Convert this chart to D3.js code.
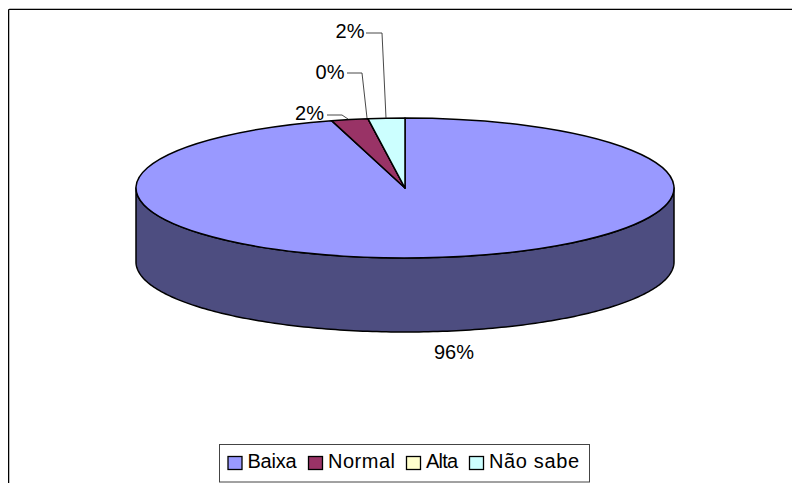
<!DOCTYPE html>
<html>
<head>
<meta charset="utf-8">
<script src="https://cdn.jsdelivr.net/npm/d3@7"></script>
<style>
body { margin: 0; background: #fff; }
text { font-family: "Liberation Sans", Arial, sans-serif; fill: #000; }
</style>
</head>
<body>
<script>
var categories = ["Baixa", "Normal", "Alta", "Não sabe"];
var values = [95.6, 2.2, 0.0, 2.2];
var labels = ["96%", "2%", "0%", "2%"];
var colors = ["#9999ff", "#993366", "#ffffcc", "#ccffff"];
var sideColor = "#4d4d80";

var w = 792;
var h = 483;

var cx = 405, cy = 188, rx = 269, ry = 70, depth = 74;

var svg = d3.select("body").append("svg")
    .attr("width", w)
    .attr("height", h)
    .style("display", "block");

//Chart frame, open at right and bottom like the picture
svg.append("path")
    .attr("d", "M9.5,483V8.5H792")
    .attr("fill", "none")
    .attr("stroke", "#bbb");
svg.append("path")
    .attr("d", "M8.5,483V9.5H792")
    .attr("fill", "none")
    .attr("stroke", "#000");

//Pie goes clockwise from 12 o'clock, Baixa first
var pie = d3.pie().sort(null).value(function(d) { return d; });
var arcs = pie(values);

var arc = d3.arc().innerRadius(0).outerRadius(rx);

function px(a) { return cx + rx * Math.sin(a); }
function py(a) { return cy - ry * Math.cos(a); }

//Side wall is the front half of the ellipse pushed down
var front = d3.range(90, 270.5, 1).map(function(d) { return d * Math.PI / 180; });
var upperEdge = d3.line().x(px).y(py)(front);
var lowerEdge = d3.line().x(px).y(function(a) { return py(a) + depth; })(front.slice().reverse());

svg.append("path")
    .attr("d", upperEdge + "L" + lowerEdge.slice(1) + "Z")
    .attr("fill", sideColor)
    .attr("stroke", "#000")
    .attr("stroke-width", 1.5)
    .attr("stroke-linejoin", "round");

var slices = svg.append("g")
    .attr("transform", "translate(" + cx + "," + cy + ") scale(1," + (ry / rx) + ")");

slices.selectAll("path")
    .data(arcs)
    .enter()
    .append("path")
    .attr("d", arc)
    .attr("fill", function(d, i) { return colors[i]; })
    .attr("stroke", "#000")
    .attr("stroke-width", 1.5)
    .attr("stroke-linejoin", "round")
    .attr("vector-effect", "non-scaling-stroke");

//Data labels with their leaders
var labelPos = [[454, 358.5], [309.5, 120], [330, 79], [350, 38]];
var leaders = [
    [[327, 115], [342, 115], [348, 119]],
    [[347, 73], [362, 73], [367, 118]],
    [[366, 33], [382, 33], [386, 118]]
];

svg.selectAll(".label")
    .data(labels)
    .enter()
    .append("text")
    .classed("label", true)
    .attr("x", function(d, i) { return labelPos[i][0]; })
    .attr("y", function(d, i) { return labelPos[i][1]; })
    .attr("text-anchor", "middle")
    .attr("font-size", 20)
    .text(function(d) { return d; });

svg.selectAll(".leader")
    .data(leaders)
    .enter()
    .append("path")
    .classed("leader", true)
    .attr("d", d3.line())
    .attr("fill", "none")
    .attr("stroke", "#333")
    .attr("stroke-width", 0.9);

//Legend
var legendX = [227.5, 308, 406, 469];
var legendTextW = [49, 67, 32, 90];
var legend = svg.append("g");

legend.append("rect")
    .attr("x", 219.5)
    .attr("y", 444.5)
    .attr("width", 370)
    .attr("height", 37.5)
    .attr("fill", "#fff")
    .attr("stroke", "#444");

var item = legend.selectAll(".item")
    .data(categories)
    .enter()
    .append("g")
    .classed("item", true)
    .attr("transform", function(d, i) { return "translate(" + legendX[i] + ",0)"; });

item.append("rect")
    .attr("x", 0.5)
    .attr("y", 456.5)
    .attr("width", 14)
    .attr("height", 13)
    .attr("fill", function(d, i) { return colors[i]; })
    .attr("stroke", "#000")
    .attr("stroke-width", 1.3);

item.append("text")
    .attr("x", 20)
    .attr("y", 468)
    .attr("font-size", 20)
    .attr("textLength", function(d, i) { return legendTextW[i]; })
    .attr("lengthAdjust", "spacing")
    .text(function(d) { return d; });
</script>
</body>
</html>
